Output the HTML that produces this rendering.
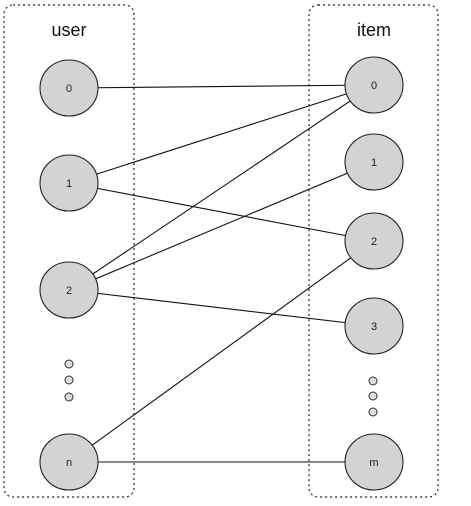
<!DOCTYPE html>
<html><head><meta charset="utf-8"><style>
html,body{margin:0;padding:0;background:#fff;}
svg{display:block;font-family:"Liberation Sans",sans-serif;}
</style></head><body>
<svg width="471" height="506" viewBox="0 0 471 506">
<rect x="4" y="5" width="130" height="492" rx="9" fill="none" stroke="#222" stroke-width="1.2" stroke-dasharray="2,3"/>
<rect x="309" y="5" width="129" height="492" rx="9" fill="none" stroke="#222" stroke-width="1.2" stroke-dasharray="2,3"/>
<text x="69" y="36" text-anchor="middle" font-size="18" fill="#111">user</text>
<text x="374" y="36" text-anchor="middle" font-size="18" fill="#111">item</text>
<g id="edges" stroke="#111" stroke-width="1.1"></g>
<g id="nodes"></g>
<g fill="#ddd" stroke="#333" stroke-width="1">
<circle cx="69" cy="364" r="4"/>
<circle cx="69" cy="380" r="4"/>
<circle cx="69" cy="397" r="4"/>
<circle cx="373" cy="381" r="4"/>
<circle cx="373" cy="396" r="4"/>
<circle cx="373" cy="412" r="4"/>
</g>
</svg>
<script>
const userLabels=["0","1","2","n"];
const userY=[88,183,290,462];
const itemLabels=["0","1","2","3","m"];
const itemY=[85,162,241,326,462];
const edges=[[0,0],[1,0],[1,2],[2,0],[2,1],[2,3],[3,2],[3,4]];
const NS="http://www.w3.org/2000/svg";
const ux=69, ix=374;
const eg=document.getElementById('edges'), ng=document.getElementById('nodes');
edges.forEach(e=>{
  const l=document.createElementNS(NS,'line');
  l.setAttribute('x1',ux);l.setAttribute('y1',userY[e[0]]);
  l.setAttribute('x2',ix);l.setAttribute('y2',itemY[e[1]]);
  
  
  eg.appendChild(l);
});
function node(x,y,t,kind){
  const el=document.createElementNS(NS,'ellipse');
  el.setAttribute('cx',x);el.setAttribute('cy',y);el.setAttribute('rx',29);el.setAttribute('ry',28);
  el.setAttribute('fill','#d3d3d3');el.setAttribute('stroke','#222');el.setAttribute('stroke-width','1.1');
  
  
  ng.appendChild(el);
  const tx=document.createElementNS(NS,'text');
  tx.setAttribute('x',x);tx.setAttribute('y',y+4);tx.setAttribute('text-anchor','middle');
  tx.setAttribute('font-size','11');tx.setAttribute('fill','#222');
  tx.textContent=t;
  
  
  ng.appendChild(tx);
}
userLabels.forEach((t,i)=>node(ux,userY[i],t,'user'));
itemLabels.forEach((t,i)=>node(ix,itemY[i],t,'item'));
</script>
</body></html>
